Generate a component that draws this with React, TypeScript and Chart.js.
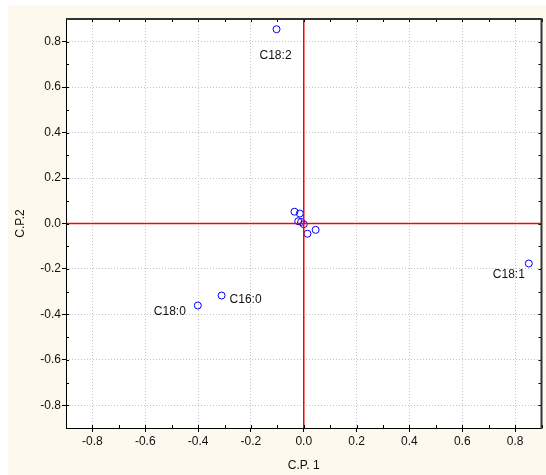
import React, { useEffect, useRef } from "react";
import { Chart, registerables } from "chart.js";

Chart.register(...registerables);

// Data
const pointX = [-0.103, 0.852, -0.311, -0.401, -0.035, -0.015, -0.021, -0.010, 0.0, 0.014, 0.045];
const pointY = [0.855, -0.176, -0.317, -0.361, 0.052, 0.044, 0.010, 0.007, -0.003, -0.045, -0.028];
const pointLabels = ["C18:2", "C18:1", "C16:0", "C18:0", "", "", "", "", "", "", ""];
const tickValues = [-0.8, -0.6, -0.4, -0.2, 0.0, 0.2, 0.4, 0.6, 0.8];
const minorTickValues = [-0.9, -0.7, -0.5, -0.3, -0.1, 0.1, 0.3, 0.5, 0.7, 0.9];
const axisMin = -0.9;
const axisMax = 0.9;
const xTitle = "C.P. 1";
const yTitle = "C.P.2";

// label placement styles (pixel offsets relative to point, align)
const labelStyle: Record<string, { dx: number; dy: number; align: CanvasTextAlign }> = {
  "C18:2": { dx: -1, dy: 26, align: "center" },
  "C18:1": { dx: -4, dy: 11, align: "right" },
  "C16:0": { dx: 8, dy: 4, align: "left" },
  "C18:0": { dx: -12, dy: 6, align: "right" },
};

const FONT = "'Liberation Sans', Arial, sans-serif";

const decorPlugin = {
  id: "decor",
  beforeDraw(chart: any) {
    const { ctx, width, height, chartArea } = chart;
    ctx.save();
    ctx.fillStyle = "#ffffff";
    ctx.fillRect(0, 0, width, height);
    ctx.fillStyle = "#fdf9ee";
    ctx.fillRect(8, 5, width - 8, height - 5);
    ctx.fillStyle = "#ffffff";
    ctx.fillRect(chartArea.left, chartArea.top, chartArea.right - chartArea.left, chartArea.bottom - chartArea.top);
    ctx.restore();
  },
  afterDatasetsDraw(chart: any) {
    const { ctx, chartArea, scales } = chart;
    const xs = scales.x;
    const ys = scales.y;
    ctx.save();
    ctx.setLineDash([]);
    // red zero lines
    ctx.strokeStyle = "#ff0000";
    ctx.lineWidth = 1.5;
    const x0 = xs.getPixelForValue(0);
    const y0 = ys.getPixelForValue(0);
    ctx.beginPath();
    ctx.moveTo(x0, chartArea.top);
    ctx.lineTo(x0, chartArea.bottom);
    ctx.moveTo(chartArea.left, y0);
    ctx.lineTo(chartArea.right, y0);
    ctx.stroke();

    // point labels
    ctx.fillStyle = "#111111";
    ctx.font = "12px " + FONT;
    ctx.textBaseline = "middle";
    const meta = chart.getDatasetMeta(0);
    meta.data.forEach((el: any, i: number) => {
      const lbl = pointLabels[i];
      if (!lbl) return;
      const st = labelStyle[lbl] || { dx: 6, dy: 0, align: "left" as CanvasTextAlign };
      ctx.textAlign = st.align;
      ctx.fillText(lbl, el.x + st.dx, el.y + st.dy);
    });

    // minor ticks (inside)
    ctx.strokeStyle = "#000000";
    ctx.lineWidth = 1;
    ctx.beginPath();
    const all = [...tickValues, ...minorTickValues];
    all.forEach((v) => {
      const px = Math.round(xs.getPixelForValue(v)) + 0.5;
      ctx.moveTo(px, chartArea.bottom);
      ctx.lineTo(px, chartArea.bottom - 3);
      ctx.moveTo(px, chartArea.top);
      ctx.lineTo(px, chartArea.top + 3);
      const py = Math.round(ys.getPixelForValue(v)) + 0.5;
      ctx.moveTo(chartArea.left, py);
      ctx.lineTo(chartArea.left + 3, py);
      ctx.moveTo(chartArea.right, py);
      ctx.lineTo(chartArea.right - 3, py);
    });
    ctx.stroke();

    // frame
    ctx.strokeStyle = "#000000";
    ctx.lineWidth = 1;
    ctx.beginPath();
    ctx.moveTo(chartArea.left + 0.5, chartArea.top);
    ctx.lineTo(chartArea.left + 0.5, chartArea.bottom + 0.5);
    ctx.lineTo(chartArea.right, chartArea.bottom + 0.5);
    ctx.stroke();
    ctx.strokeStyle = "#333333";
    ctx.lineWidth = 2;
    ctx.beginPath();
    ctx.moveTo(chartArea.left, chartArea.top);
    ctx.lineTo(chartArea.right, chartArea.top);
    ctx.lineTo(chartArea.right, chartArea.bottom + 1);
    ctx.stroke();
    ctx.restore();
  },
};

export default function App() {
  const ref = useRef<HTMLCanvasElement | null>(null);
  useEffect(() => {
    if (!ref.current) return;
    const data = pointX.map((x, i) => ({ x, y: pointY[i] }));
    const tickSetter = (scale: any) => {
      scale.ticks = tickValues.map((v) => ({ value: v }));
    };
    const chart = new Chart(ref.current, {
      type: "scatter",
      data: {
        datasets: [
          {
            data,
            pointRadius: 3.5,
            pointHoverRadius: 3.5,
            borderColor: "#0000ff",
            backgroundColor: "rgba(0,0,0,0)",
            borderWidth: 1,
          },
        ],
      },
      options: {
        responsive: false,
        animation: false,
        events: [],
        layout: { padding: { top: 19, right: 4, left: 0, bottom: 0 } },
        plugins: { legend: { display: false }, tooltip: { enabled: false } },
        scales: {
          x: {
            type: "linear",
            min: axisMin,
            max: axisMax,
            afterBuildTicks: tickSetter,
            afterFit: (s: any) => {
              s.height = 47;
            },
            grid: {
              color: "#c4c4c4",
              lineWidth: 1,
              drawTicks: true,
              tickLength: 4,
              tickColor: "#000000",
            },
            border: { display: false, dash: [1, 2] },
            ticks: {
              padding: 2,
              color: "#111111",
              font: { family: FONT, size: 12 },
              maxRotation: 0,
              callback: (v: any) => Number(v).toFixed(1),
            },
            title: {
              display: true,
              text: xTitle,
              color: "#111111",
              font: { family: FONT, size: 12 },
              padding: { top: 0, bottom: 2 },
            },
          },
          y: {
            type: "linear",
            min: axisMin,
            max: axisMax,
            afterBuildTicks: tickSetter,
            afterFit: (s: any) => {
              s.width = 66;
            },
            grid: {
              color: "#c4c4c4",
              lineWidth: 1,
              drawTicks: true,
              tickLength: 4,
              tickColor: "#000000",
            },
            border: { display: false, dash: [1, 2] },
            ticks: {
              padding: 1,
              color: "#111111",
              font: { family: FONT, size: 12 },
              callback: (v: any) => Number(v).toFixed(1),
            },
            title: {
              display: true,
              text: yTitle,
              color: "#111111",
              font: { family: FONT, size: 12 },
              padding: { top: 13, bottom: 0 },
            },
          },
        },
      },
      plugins: [decorPlugin],
    });
    return () => chart.destroy();
  }, []);
  return (
    <div style={{ position: "absolute", left: 0, top: 0, width: 546, height: 475 }}>
      <canvas ref={ref} width={546} height={475} style={{ display: "block" }} />
    </div>
  );
}
